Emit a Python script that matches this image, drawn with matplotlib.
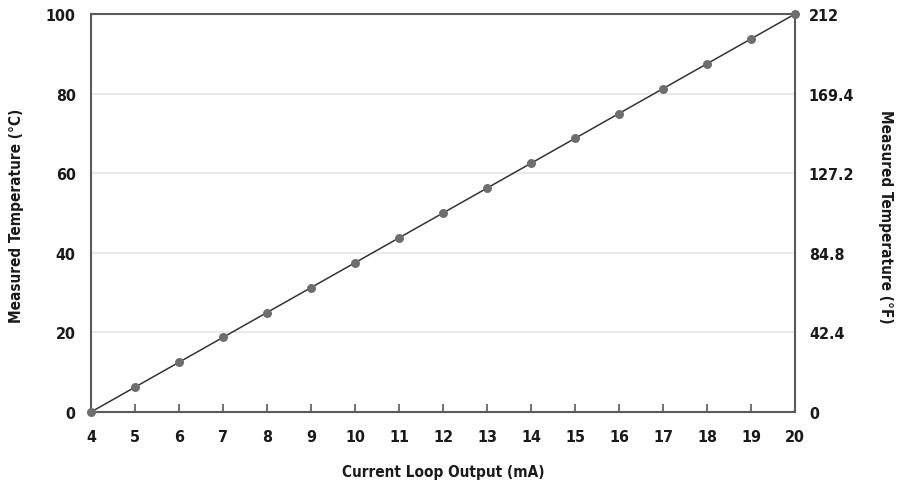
import matplotlib
matplotlib.use("Agg")
import matplotlib.pyplot as plt

plt.rcParams['font.family'] = ['DejaVu Sans', 'DejaVu Sans']
plt.rcParams['font.stretch'] = 'condensed'
plt.rcParams['font.weight'] = 'bold'

current_ma = [4, 5, 6, 7, 8, 9, 10, 11, 12, 13, 14, 15, 16, 17, 18, 19, 20]
temp_c = [0, 6.25, 12.5, 18.75, 25, 31.25, 37.5, 43.75, 50, 56.25, 62.5,
          68.75, 75, 81.25, 87.5, 93.75, 100]
left_ticks = [0, 20, 40, 60, 80, 100]
right_tick_labels = ["0", "42.4", "84.8", "127.2", "169.4", "212"]

W, H = 898, 485
fig = plt.figure(figsize=(W / 100, H / 100), dpi=100)
x0, x1, y0, y1 = 91, 795, 15, 413
ax = fig.add_axes([x0 / W, 1 - y1 / H, (x1 - x0) / W, (y1 - y0) / H])

ax.plot(current_ma, temp_c, color='#333333', lw=1.1, zorder=3)
ax.scatter(current_ma, temp_c, s=42, color='#6e6e6e', zorder=4, clip_on=False, linewidths=0)

ax.set_xlim(4, 20)
ax.set_ylim(0, 100)
ax.set_xticks(current_ma)
ax.set_yticks(left_ticks)
for y in left_ticks[1:-1]:
    ax.axhline(y, color='#e6e6e6', lw=1.2, zorder=1)

for s in ax.spines.values():
    s.set_color('#5a5a5a')
    s.set_linewidth(1.5)

fs = 11.5
ax.tick_params(axis='x', direction='in', length=6, width=1.2, color='#5a5a5a',
               labelsize=fs, pad=12, labelcolor='#1a1a1a')
ax.tick_params(axis='y', length=0, labelsize=fs, pad=11, labelcolor='#1a1a1a')

ax2 = ax.twinx()
ax2.set_ylim(0, 100)
ax2.set_yticks(left_ticks)
ax2.set_yticklabels(right_tick_labels)
ax2.tick_params(axis='y', length=0, labelsize=fs, pad=10, labelcolor='#1a1a1a')
for s in ax2.spines.values():
    s.set_visible(False)

lfs = 11
fig.text(443 / W, 1 - 473 / H, 'Current Loop Output (mA)', fontsize=lfs,
         ha='center', va='center', color='#1a1a1a')
fig.text(17 / W, 1 - 216 / H, 'Measured Temperature (°C)', fontsize=lfs,
         rotation=90, ha='center', va='center', color='#1a1a1a')
fig.text(886 / W, 1 - 217 / H, 'Measured Temperature (°F)', fontsize=lfs,
         rotation=-90, ha='center', va='center', color='#1a1a1a')

fig.savefig('out.png', dpi=100)
